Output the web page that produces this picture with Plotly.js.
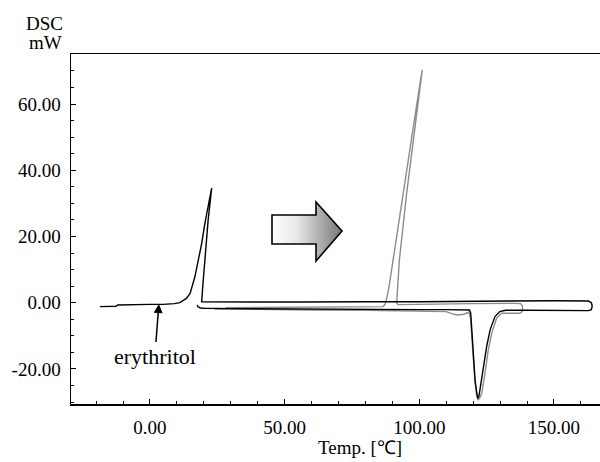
<!DOCTYPE html>
<html>
<head>
<meta charset="utf-8">
<script src="https://cdn.plot.ly/plotly-3.0.1.min.js"></script>
<style>html,body{margin:0;padding:0;background:#fff;}#chart{width:600px;height:462px;}</style>
</head>
<body>
<div id="chart"></div>
<script>
// Black run (heating segment, then cooling segment with supercooled crystallization)
const blackTemp = [17.5, 17.9, 18.7, 20, 30, 45, 60, 80, 100, 110, 117, 118.6, 119.1, 119.8, 120.7, 121.3, 121.7, 122.2, 122.5, 123.8, 125.0, 126.3, 128.1, 129.9, 132, 140, 150, 160, 162.8, 163.9, 164.2, 163.9, 162.8, 150, 137.5, 120, 100, 80, 60, 56, 55.6, 40, 25, 19.2, 19.6, 20.5, 21.6, 22.9, 21.7, 20.4, 19.2, 17.9, 16.7, 14.9, 13.5, 12.4, 11.1, 9, 5, 0, -5, -12, -12.6, -18.6];
const blackDSC  = [-0.7, -1.3, -1.6, -1.7, -1.8, -1.9, -2.0, -2.0, -2.1, -2.1, -2.2, -2.2, -3.2, -13.3, -23.4, -27.0, -28.9, -28.0, -26.4, -20.3, -13.3, -8.2, -4.2, -2.7, -2.3, -2.3, -2.4, -2.4, -2.4, -2.1, -1.0, 0.0, 0.5, 0.6, 0.5, 0.4, 0.3, 0.3, 0.4, 0.4, 0.2, 0.2, 0.2, 0.3, 5.0, 15.0, 25.0, 34.6, 30.0, 24.0, 17.9, 12.9, 7.9, 2.8, 1.3, 0.7, 0.0, -0.3, -0.5, -0.5, -0.6, -0.7, -1.1, -1.2];

// Gray run (heating to ~138, cooling with crystallization near 92)
const grayTemp = [24, 40, 60, 80, 100, 110, 112, 114, 116.5, 118.3, 119.0, 119.8, 120.7, 121.3, 121.8, 122.4, 123.2, 124.4, 125.6, 126.9, 128.7, 130.6, 134, 137.4, 138.3, 138.3, 137.6, 135, 120, 105, 95, 92, 91.6, 91.9, 92.6, 95.3, 98.4, 100.2, 101.1, 100.6, 97.8, 94.1, 90.3, 88.8, 87.9, 87.3, 86.5, 70, 50, 28];
const grayDSC  = [-1.9, -2.1, -2.2, -2.3, -2.5, -2.7, -3.3, -3.7, -3.5, -2.9, -4.5, -14.0, -24.0, -28.0, -29.4, -28.8, -27.4, -21.3, -14.3, -9.2, -4.7, -3.2, -3.2, -3.2, -2.6, -1.0, -0.3, -0.2, -0.3, -0.4, -0.5, -0.6, 0.0, 5.0, 12.9, 33.0, 53.2, 65.0, 70.3, 68.0, 53.2, 33.0, 12.9, 5.0, 1.3, -0.5, -1.2, -1.3, -1.4, -1.5];

const xTickVals = [0, 50, 100, 150];
const xTickText = ['0.00', '50.00', '100.00', '150.00'];
const yTickVals = [-20, 0, 20, 40, 60];
const yTickText = ['-20.00', '0.00', '20.00', '40.00', '60.00'];

const xTitle = 'Temp. [℃]';
const yTitleTop = 'DSC';
const yTitleUnit = 'mW';
const sampleLabel = 'erythritol';

const serif = 'Liberation Serif';

const traces = [
  {x: grayTemp, y: grayDSC, type: 'scatter', mode: 'lines', line: {color: '#8c8c8c', width: 1.4}, hoverinfo: 'skip'},
  {x: blackTemp, y: blackDSC, type: 'scatter', mode: 'lines', line: {color: '#000000', width: 1.4}, hoverinfo: 'skip'}
];

const arrowSvg = "<svg xmlns='http://www.w3.org/2000/svg' width='74' height='64' viewBox='0 0 74 64'>" +
  "<defs><linearGradient id='g' x1='0' x2='1' y1='0' y2='0'>" +
  "<stop offset='0' stop-color='#ffffff'/><stop offset='0.35' stop-color='#e8e8e8'/><stop offset='1' stop-color='#777777'/></linearGradient></defs>" +
  "<path d='M2 15 L46 15 L46 2 L72 31 L46 61 L46 44 L2 44 Z' fill='url(#g)' stroke='#000' stroke-width='1.6' stroke-linejoin='miter'/></svg>";
const arrowSrc = 'data:image/svg+xml;charset=utf-8,' + encodeURIComponent(arrowSvg);

const axisCommon = {
  showgrid: false, zeroline: false, showline: true, linecolor: '#000', linewidth: 1.5,
  ticks: 'inside', ticklen: 5, tickwidth: 1, tickcolor: '#000',
  tickfont: {family: serif, size: 19, color: '#000'}
};

const layout = {
  width: 600, height: 462,
  margin: {l: 71, r: 0, t: 54, b: 58},
  paper_bgcolor: '#ffffff', plot_bgcolor: '#ffffff',
  showlegend: false,
  font: {family: serif, color: '#000'},
  xaxis: Object.assign({}, axisCommon, {
    range: [-29.33, 167.1], tickmode: 'array', tickvals: xTickVals, ticktext: xTickText,
    mirror: true, ticklabelstandoff: 6,
    minor: {tickmode: 'linear', tick0: 0, dtick: 10, ticks: 'inside', ticklen: 3, tickcolor: '#000', showgrid: false}
  }),
  yaxis: Object.assign({}, axisCommon, {
    range: [-30.6, 75.1], tickmode: 'array', tickvals: yTickVals, ticktext: yTickText,
    mirror: false, ticklabelstandoff: 5,
    minor: {tickmode: 'linear', tick0: 0, dtick: 5, ticks: 'inside', ticklen: 3, tickcolor: '#000', showgrid: false}
  }),
  annotations: [
    {xref: 'paper', yref: 'paper', x: (360 - 71) / 529, y: (404 - 447) / 350, xanchor: 'center', yanchor: 'middle',
     text: xTitle, showarrow: false, font: {family: serif, size: 19, color: '#000'}},
    {xref: 'paper', yref: 'paper', x: (44 - 71) / 529, y: (404 - 23) / 350, xanchor: 'center', yanchor: 'middle',
     text: yTitleTop, showarrow: false, font: {family: serif, size: 19, color: '#000'}},
    {xref: 'paper', yref: 'paper', x: (45 - 71) / 529, y: (404 - 42) / 350, xanchor: 'center', yanchor: 'middle',
     text: yTitleUnit, showarrow: false, font: {family: serif, size: 19, color: '#000'}},
    {xref: 'x', yref: 'y', x: 3.3, y: -0.4, ax: -4, ay: 52, text: sampleLabel, showarrow: true,
     arrowhead: 2, arrowsize: 1.2, arrowwidth: 1.5, arrowcolor: '#000',
     font: {family: serif, size: 22, color: '#000'}}
  ],
  images: [
    {source: arrowSrc, xref: 'paper', yref: 'paper', x: (270 - 71) / 529, y: (404 - 200) / 350,
     sizex: 74 / 529, sizey: 64 / 350, sizing: 'stretch', xanchor: 'left', yanchor: 'top', layer: 'above'}
  ]
};

Plotly.newPlot('chart', traces, layout, {displayModeBar: false, staticPlot: true});
</script>
</body>
</html>
